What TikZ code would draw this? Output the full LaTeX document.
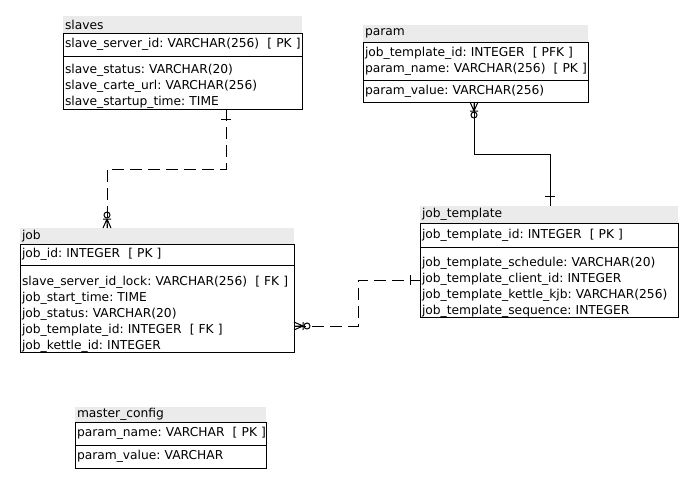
\documentclass[tikz,border=0pt]{standalone}
\usepackage{fontspec}
\setmainfont{DejaVu Sans}
\usetikzlibrary{calc}
\definecolor{bandgray}{RGB}{235,235,235}
\frenchspacing
\hyphenpenalty=10000
\exhyphenpenalty=10000

\tikzset{
  band/.style={fill=bandgray, anchor=north west, inner xsep=1.5pt, inner ysep=0pt, outer sep=0pt, align=left},
  cell/.style={draw, line width=0.75pt, anchor=north west, inner xsep=1.5pt, inner ysep=0pt, outer sep=0pt, align=left},
  rel/.style={line width=0.75pt},
  reldash/.style={rel, dash pattern=on 9pt off 4.5pt},
  one/.pic={\draw[line width=0.75pt] (10,-5) -- (10,5);},
  zeromany/.pic={
    \draw[line width=0.75pt] (0,-4) -- (9,0) (0,0) -- (9,0) (0,4) -- (9,0) (9,-4) -- (9,4);
    \draw[line width=0.75pt] (13,0) circle (3);
  },
}

\begin{document}
\begin{tikzpicture}[x=0.75pt,y=0.75pt,yscale=-1,xscale=1,
  every node/.style={font=\fontsize{9.2pt}{12pt}\selectfont}]
  \useasboundingbox (0,0) rectangle (697,482);

  %Table [slaves]
  \node[band, text width=176.25pt, minimum height=12.75pt] (slaves) at (63,16) {slaves};
  \node[cell, text width=176.25pt, minimum height=17.25pt] (slaveskey) at (slaves.south west) {slave\_server\_id:~VARCHAR(256)~~[~PK~]};
  \node[cell, text width=176.25pt, text height=13pt, text depth=26.75pt] (slavesattr) at (slaveskey.south west) {slave\_status: VARCHAR(20)\\slave\_carte\_url: VARCHAR(256)\\slave\_startup\_time: TIME};

  %Table [param]
  \node[band, text width=165.75pt, minimum height=12.75pt] (param) at (363,25) {param};
  \node[cell, text width=165.75pt, minimum height=28.5pt] (paramkey) at (param.south west) {job\_template\_id:~INTEGER~~[~PFK~]\\param\_name:~VARCHAR(256)~~[~PK~]};
  \node[cell, text width=165.75pt, minimum height=16.5pt] (paramattr) at (paramkey.south west) {param\_value: VARCHAR(256)};

  %Table [job]
  \node[band, text width=202.5pt, minimum height=12pt] (job) at (20,228) {job};
  \node[cell, text width=202.5pt, minimum height=15.75pt] (jobkey) at (job.south west) {job\_id: INTEGER~~[~PK~]};
  \node[cell, text width=202.5pt, text height=15pt, text depth=50.25pt] (jobattr) at (jobkey.south west) {slave\_server\_id\_lock:~VARCHAR(256)~~[~FK~]\\job\_start\_time: TIME\\job\_status: VARCHAR(20)\\job\_template\_id: INTEGER~~[~FK~]\\job\_kettle\_id: INTEGER};

  %Table [job_template]
  \node[band, text width=190.5pt, minimum height=12.75pt] (jobtemplate) at (420,206) {job\_template};
  \node[cell, text width=190.5pt, minimum height=18pt] (jobtemplatekey) at (jobtemplate.south west) {job\_template\_id: INTEGER~~[~PK~]};
  \node[cell, text width=190.5pt, text height=14.5pt, text depth=38pt] (jobtemplateattr) at (jobtemplatekey.south west) {job\_template\_schedule: VARCHAR(20)\\job\_template\_client\_id: INTEGER\\job\_template\_kettle\_kjb:~VARCHAR(256)\\job\_template\_sequence: INTEGER};

  %Table [master_config]
  \node[band, text width=140.25pt, minimum height=11.25pt] (masterconfig) at (75,407) {master\_config};
  \node[cell, text width=140.25pt, minimum height=17.25pt] (masterconfigkey) at (masterconfig.south west) {param\_name:~VARCHAR~~[~PK~]};
  \node[cell, text width=140.25pt, minimum height=17.25pt] (masterconfigattr) at (masterconfigkey.south west) {param\_value: VARCHAR};

  %Connector ends
  \coordinate (slavesout) at ($(slavesattr.south west)+(163,0)$);
  \coordinate (jobin) at ($(job.north west)+(87,0)$);
  \coordinate (paramout) at ($(paramattr.south west)+(111,0)$);
  \coordinate (jobtemplatein) at ($(jobtemplate.north west)+(130,0)$);
  \coordinate (jobout) at ($(jobattr.north east)+(0,61)$);
  \coordinate (jobtemplateside) at ($(jobtemplateattr.north west)+(0,33)$);

  %Relation [slaves - job]
  \draw[reldash] (slavesout) -- ++(0,60) -| (jobin);
  \path (slavesout) pic[rotate=270]{one};
  \path (jobin) pic[rotate=90]{zeromany};

  %Relation [job_template - param]
  \draw[rel] (paramout) -- ++(0,52) -| (jobtemplatein);
  \path (paramout) pic[rotate=270]{zeromany};
  \path (jobtemplatein) pic[rotate=90]{one};

  %Relation [job_template - job]
  \draw[reldash] (jobout) -- ++(64,0) |- (jobtemplateside);
  \path (jobout) pic{zeromany};
  \path (jobtemplateside) pic[rotate=180]{one};

\end{tikzpicture}
\end{document}
